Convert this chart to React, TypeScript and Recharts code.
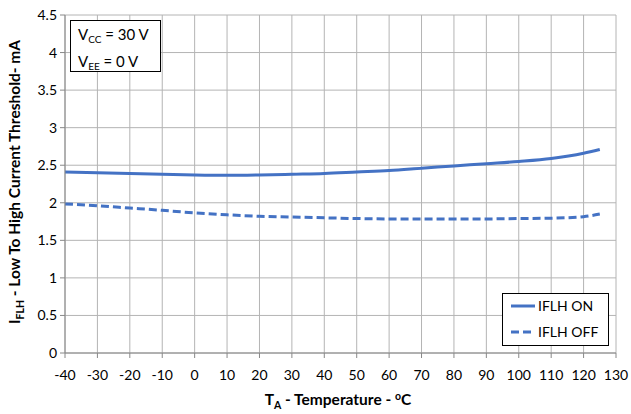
import React from 'react';
import { LineChart, Line, XAxis, YAxis, CartesianGrid } from 'recharts';

const temps = [-40, -30, -20, -10, 0, 10, 20, 30, 40, 50, 60, 70, 80, 90, 100, 110, 120, 125];
const iflhOn = [2.41, 2.40, 2.39, 2.38, 2.37, 2.365, 2.37, 2.38, 2.39, 2.41, 2.43, 2.46, 2.49, 2.52, 2.55, 2.59, 2.66, 2.71];
const iflhOff = [1.985, 1.96, 1.93, 1.90, 1.865, 1.84, 1.82, 1.81, 1.80, 1.79, 1.785, 1.785, 1.785, 1.785, 1.79, 1.795, 1.815, 1.85];
const xTicks = [-40, -30, -20, -10, 0, 10, 20, 30, 40, 50, 60, 70, 80, 90, 100, 110, 120, 130];
const yTicks = [0, 0.5, 1, 1.5, 2, 2.5, 3, 3.5, 4, 4.5];
const seriesNames = ['IFLH ON', 'IFLH OFF'];

const data = temps.map((t, i) => ({ t, on: iflhOn[i], off: iflhOff[i] }));

const FONT = 'Lato, "Open Sans", sans-serif';
const BLUE = '#4472C4';

const YTitle = () => (
  <text
    transform="translate(20,182) rotate(-90)"
    textAnchor="middle"
    fontFamily={FONT}
    fontSize={15.5}
    fontWeight="bold"
    fill="#000"
  >
    <tspan>I</tspan>
    <tspan fontSize={10.5} dy={4}>FLH</tspan>
    <tspan dy={-4}> - Low To High Current Threshold- mA</tspan>
  </text>
);

const XTitle = () => (
  <text x={338} y={405} textAnchor="middle" fontFamily={FONT} fontSize={15.5} fontWeight="bold" fill="#000">
    <tspan>T</tspan>
    <tspan fontSize={10.5} dy={4}>A</tspan>
    <tspan dy={-4}> - Temperature - </tspan>
    <tspan fontSize={10.5} dy={-5}>o</tspan>
    <tspan dy={5}>C</tspan>
  </text>
);

export default function App() {
  return (
    <div style={{ position: 'absolute', left: 0, top: 0, width: 631, height: 414, background: '#fff' }}>
      <LineChart width={631} height={414} data={data} margin={{ top: 15, right: 15, left: 0, bottom: 0 }}>
        <CartesianGrid stroke="#b4b4b4" strokeWidth={1} />
        <XAxis
          dataKey="t"
          type="number"
          domain={[-40, 130]}
          ticks={xTicks}
          interval={0}
          height={61}
          tickSize={5}
          tickMargin={12}
          stroke="#888"
          tick={{ fill: '#000', fontFamily: FONT, fontSize: 14 }}
          label={<XTitle />}
        />
        <YAxis
          type="number"
          domain={[0, 4.5]}
          ticks={yTicks}
          interval={0}
          width={65}
          tickSize={5}
          tickMargin={3}
          stroke="#888"
          tick={{ fill: '#000', fontFamily: FONT, fontSize: 14 }}
          label={<YTitle />}
        />
        <Line dataKey="on" name={seriesNames[0]} stroke={BLUE} strokeWidth={3} dot={false} type="monotone" isAnimationActive={false} />
        <Line dataKey="off" name={seriesNames[1]} stroke={BLUE} strokeWidth={3} strokeDasharray="8 4" dot={false} type="monotone" isAnimationActive={false} />
      </LineChart>
      <div
        style={{
          position: 'absolute',
          left: 502,
          top: 293,
          width: 107,
          height: 53,
          border: '1px solid #000',
          background: '#fff',
          boxSizing: 'border-box',
        }}
      >
        <svg width={107} height={53} style={{ position: 'absolute', left: -1, top: -1 }}>
          <line x1={9} x2={33} y1={13} y2={13} stroke={BLUE} strokeWidth={3} />
          <line x1={9} x2={33} y1={39} y2={39} stroke={BLUE} strokeWidth={3} strokeDasharray="8 4" />
          <text x={36} y={18} fontFamily={FONT} fontSize={14} fill="#000">{seriesNames[0]}</text>
          <text x={36} y={44} fontFamily={FONT} fontSize={14} fill="#000">{seriesNames[1]}</text>
        </svg>
      </div>
      <div
        style={{
          position: 'absolute',
          left: 70,
          top: 20,
          width: 91,
          height: 52,
          border: '1px solid #000',
          boxSizing: 'border-box',
          background: '#fff',
          fontFamily: FONT,
          fontSize: 15,
          lineHeight: '22px',
          padding: '2px 0 0 7px',
          color: '#000',
        }}
      >
        <div>V<sub style={{ fontSize: 10, verticalAlign: '-3px' }}>CC</sub> = 30 V</div>
        <div>V<sub style={{ fontSize: 10, verticalAlign: '-3px' }}>EE</sub> = 0 V</div>
      </div>
    </div>
  );
}
